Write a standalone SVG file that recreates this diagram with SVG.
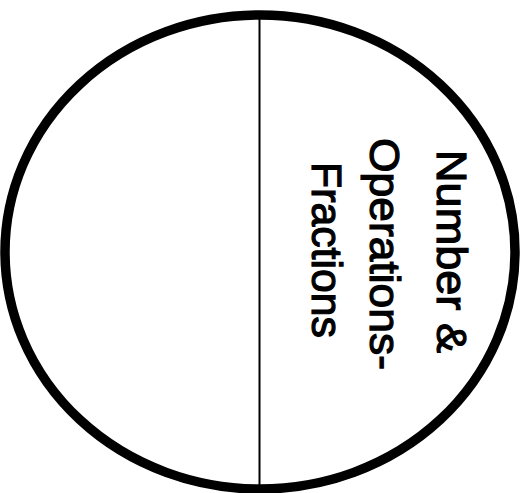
<svg xmlns="http://www.w3.org/2000/svg" width="525" height="493" viewBox="0 0 525 493">
<style>
.lbl{font-family:"Liberation Sans",Arial,sans-serif;font-size:43px;fill:#000;stroke:#000;stroke-width:1.2}
</style>
<rect width="525" height="493" fill="#fff"/>
<g id="circle">
<ellipse cx="260" cy="252" rx="255" ry="237" fill="none" stroke="#000" stroke-width="9.5"/>
</g>
<g id="connectors">
<line x1="259.5" y1="18" x2="259.5" y2="487" stroke="#000" stroke-width="2"/>
</g>
<g id="label">
<text class="lbl" transform="translate(437,150) rotate(90)" textLength="203" lengthAdjust="spacingAndGlyphs">Number &amp;</text>
<text class="lbl" transform="translate(370,138) rotate(90)" textLength="232" lengthAdjust="spacingAndGlyphs">Operations-</text>
<text class="lbl" transform="translate(312,162) rotate(90)" textLength="176" lengthAdjust="spacingAndGlyphs">Fractions</text>
</g>
</svg>
